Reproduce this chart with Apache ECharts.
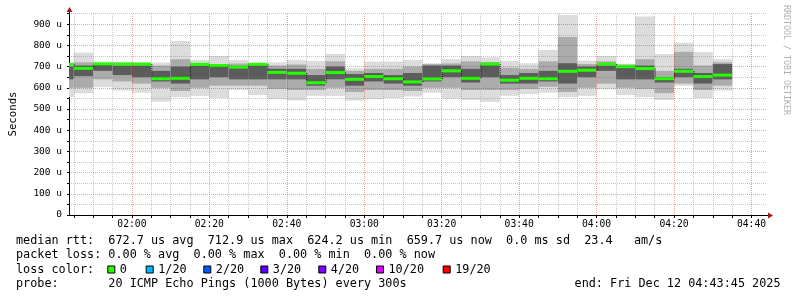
<!DOCTYPE html>
<html><head><meta charset="utf-8">
<script src="https://cdn.jsdelivr.net/npm/echarts@6/dist/echarts.min.js"></script>
<style>html,body{margin:0;padding:0;background:#fff}#c{width:797px;height:297px}</style>
</head><body><div id="c"></div>
<script>
// ---- data ----
const startTime = '01:43:45';
const endTime = '04:43:45';
const stepMin = 5;
const binEnd = ['01:45','01:50','01:55','02:00','02:05','02:10','02:15','02:20','02:25','02:30',
  '02:35','02:40','02:45','02:50','02:55','03:00','03:05','03:10','03:15','03:20',
  '03:25','03:30','03:35','03:40','03:45','03:50','03:55','04:00','04:05','04:10',
  '04:15','04:20','04:25','04:30','04:35'];
const median = [711,692,713,712,712,643,645,711,705,698,711,673,669,624,672,640,653,643,628,642,680,645,712,636,645,643,678,683,712,700,691,643,678,653,660];
const maxV = [715,766,724,724,720,719,821,731,750,731,716,720,731,727,760,692,724,724,731,716,735,750,744,727,716,779,943,728,750,713,936,760,813,769,735];
const hi2 = [705,720,716,714,712,705,735,712,712,715,714,705,710,690,725,680,690,690,700,712,715,725,722,695,690,725,840,712,725,710,735,680,770,705,720];
const hi3 = [700,705,708,705,705,680,700,705,708,700,712,690,690,660,700,665,670,660,670,705,705,690,710,660,670,680,716,700,705,700,705,650,690,670,712];
const lo3 = [640,655,680,660,650,630,620,640,650,640,640,640,640,610,640,610,630,620,610,630,650,625,650,620,620,630,620,650,680,640,640,625,650,620,640];
const lo2 = [600,600,640,630,620,600,585,600,610,610,610,595,590,590,600,580,590,590,585,600,600,590,590,590,595,605,580,600,620,600,595,575,620,590,610];
const minV = [557,574,603,587,577,535,555,562,552,590,566,546,540,562,562,540,546,551,559,577,549,543,533,562,571,577,555,562,593,566,555,543,609,551,587];
const xTickLabels = ['02:00','02:20','02:40','03:00','03:20','03:40','04:00','04:20','04:40'];
const yTickLabels = ['0','100 u','200 u','300 u','400 u','500 u','600 u','700 u','800 u','900 u'];
const yMax = 953;
const lossLabels = ['0','1/20','2/20','3/20','4/20','10/20','19/20'];
const lossColors = ['#26ff00','#00b8ff','#0059ff','#5e00ff','#7e00ff','#dd00ff','#ff0000'];
const legendLine1 = 'median rtt:  672.7 us avg  712.9 us max  624.2 us min  659.7 us now  0.0 ms sd  23.4   am/s';
const legendLine2 = 'packet loss: 0.00 % avg  0.00 % max  0.00 % min  0.00 % now';
const legendLine3 = 'loss color:';
const legendLine4 = 'probe:       20 ICMP Echo Pings (1000 Bytes) every 300s';
const endText = 'end: Fri Dec 12 04:43:45 2025';

// ---- layout / style ----
const mono = 'DejaVu Sans Mono';
const smoke = ['#dcdcdc', '#ababab', '#5c5c5c'];
const lossBoxX = [107.3,145.7,203.3,260.3,318.3,376,442.7];
const majorStyle = {color:'rgba(225,0,0,0.38)', width:1, type:[1,1]};
const minorStyle = {color:'rgba(120,120,120,0.42)', width:1, type:[1,1]};

const toMin = s => { const p = s.split(':').map(Number); return p[0]*60 + p[1] + (p[2]||0)/60; };
const tStart = toMin(startTime), tEnd = toMin(endTime);
const majorMins = xTickLabels.map(toMin);
const pad = n => String(n).padStart(2,'0');
const fmt = m => pad(Math.floor(m/60)) + ':' + pad(Math.round(m%60));

const gridLines = [];
const minorTicks = [];
for (let m = Math.ceil(tStart/stepMin)*stepMin; m <= tEnd; m += stepMin) {
  minorTicks.push(m);
  gridLines.push({xAxis: m, lineStyle: majorMins.includes(m) ? majorStyle : minorStyle});
}
for (let v = 50; v < yMax; v += 50) {
  gridLines.push({yAxis: v, lineStyle: v % 100 === 0 ? majorStyle : minorStyle});
}

const seriesData = binEnd.map((t,i) => [toMin(t), minV[i], lo2[i], lo3[i], hi3[i], hi2[i], maxV[i], median[i]]);

function renderItem(params, api) {
  const i = params.dataIndex;
  const t1 = api.value(0), t0 = t1 - stepMin;
  const cs = params.coordSys;
  const clipR = {x: cs.x, y: cs.y, width: cs.width, height: cs.height};
  const children = [];
  const band = (lo, hi, color) => {
    const a = api.coord([t0, hi]), b = api.coord([t1, lo]);
    const r = echarts.graphic.clipRectByRect({x:a[0], y:a[1], width:b[0]-a[0], height:b[1]-a[1]}, clipR);
    if (r) children.push({type:'rect', shape:r, style:{fill:color}});
  };
  band(api.value(1), api.value(6), smoke[0]);
  band(api.value(2), api.value(5), smoke[1]);
  band(api.value(3), api.value(4), smoke[2]);
  const med = api.value(7);
  const a = api.coord([t0, med]), b = api.coord([t1, med]);
  if (i > 0) {
    const pa = api.coord([t0, median[i-1]]);
    children.push({type:'line', shape:{x1:a[0]+0.5, y1:pa[1], x2:a[0]+0.5, y2:a[1]},
      style:{stroke:'#000', lineWidth:1, lineDash:[1,1]}});
  }
  const r = echarts.graphic.clipRectByRect({x:a[0], y:a[1]-1.5, width:b[0]-a[0], height:3}, clipR);
  if (r) children.push({type:'rect', shape:r, style:{fill:lossColors[0]}});
  return {type:'group', children};
}

const chart = echarts.init(document.getElementById('c'), null, {renderer:'canvas', width:797, height:297});
const graphics = [];
const lineY = [241, 255.3, 269.5, 283.8];
[legendLine1, legendLine2, legendLine3, legendLine4].forEach((t,k) => {
  graphics.push({type:'text', x:16, y:lineY[k], style:{text:t, font:'11.8px "DejaVu Sans Mono"', fill:'#000', textVerticalAlign:'middle', textAlign:'left'}});
});
lossLabels.forEach((l,k) => {
  graphics.push({type:'rect', shape:{x:lossBoxX[k]+0.5, y:lineY[2]-3.5, width:7, height:7}, style:{fill:lossColors[k], stroke:'#000', lineWidth:1}});
  graphics.push({type:'text', x:lossBoxX[k]+12.5, y:lineY[2], style:{text:l, font:'11.8px "DejaVu Sans Mono"', fill:'#000', textVerticalAlign:'middle', textAlign:'left'}});
});
graphics.push({type:'text', x:780.5, y:lineY[3], style:{text:endText, font:'11.8px "DejaVu Sans Mono"', fill:'#000', textVerticalAlign:'middle', textAlign:'right'}});
graphics.push({type:'text', x:786, y:5, rotation:-Math.PI/2, style:{text:'RRDTOOL / TOBI OETIKER', font:'8.3px "DejaVu Sans Mono"', fill:'#b0b0b0', textVerticalAlign:'middle', textAlign:'left'}});

const option = {
  animation: false,
  backgroundColor: '#fff',
  grid: {left:66, right:31, top:13, bottom:82, containLabel:false},
  xAxis: {
    type:'value', min:tStart, max:tEnd,
    axisLine:{show:true, lineStyle:{color:'#000', width:1}},
    axisTick:{show:true, customValues:minorTicks, length:3, lineStyle:{color:'#000'}},
    axisLabel:{show:true, customValues:majorMins, formatter:v => fmt(v), fontFamily:mono, fontSize:9.7, color:'#000', margin:4},
    splitLine:{show:false}
  },
  yAxis: {
    type:'value', min:0, max:yMax, interval:50,
    name:'Seconds', nameLocation:'middle', nameGap:50,
    nameTextStyle:{fontFamily:mono, fontSize:10.7, color:'#000'},
    axisLine:{show:true, lineStyle:{color:'#000', width:1}},
    axisTick:{show:true, length:2, lineStyle:{color:'#000'}},
    axisLabel:{fontFamily:mono, fontSize:9.5, color:'#000', margin:7, showMaxLabel:false,
      formatter:v => (v % 100 === 0 && v/100 < yTickLabels.length) ? yTickLabels[v/100] : ''},
    splitLine:{show:false}
  },
  series: [{
    type:'custom', renderItem, data:seriesData,
    encode:{x:0, y:[1,6]}, silent:true,
    markLine:{silent:true, symbol:['none','none'], label:{show:false}, animation:false, data:gridLines}
  }],
  graphic: graphics
};
chart.setOption(option);

// axis arrows in dark red at the ends of the axes
const o = chart.convertToPixel({gridIndex:0}, [tStart, 0]);
const xe = chart.convertToPixel({gridIndex:0}, [tEnd, 0]);
const ye = chart.convertToPixel({gridIndex:0}, [tStart, yMax]);
graphics.push({type:'line', shape:{x1:xe[0], y1:xe[1]+0.5, x2:xe[0]+3, y2:xe[1]+0.5}, style:{stroke:'#000', lineWidth:1}});
graphics.push({type:'polygon', shape:{points:[[xe[0]+2, xe[1]-2.5],[xe[0]+7, xe[1]+0.5],[xe[0]+2, xe[1]+3.5]]}, style:{fill:'#a01818'}});
graphics.push({type:'line', shape:{x1:o[0]+0.5, y1:ye[1], x2:o[0]+0.5, y2:ye[1]-2}, style:{stroke:'#000', lineWidth:1}});
graphics.push({type:'polygon', shape:{points:[[o[0]-2.5, ye[1]-1],[o[0]+0.5, ye[1]-6],[o[0]+3.5, ye[1]-1]]}, style:{fill:'#a01818'}});
chart.setOption({graphic: graphics});
</script></body></html>
